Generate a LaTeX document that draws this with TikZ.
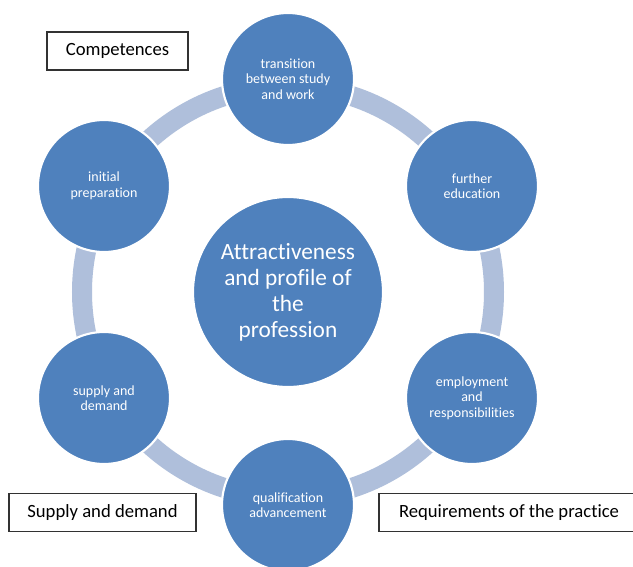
\documentclass[tikz,border=0pt]{standalone}
\usepackage{fontspec}
\setmainfont{Carlito}[Ligatures=NoCommon]

\definecolor{discblue}{RGB}{79,129,189}
\definecolor{ringblue}{RGB}{175,191,219}
\definecolor{boxline}{RGB}{50,50,50}

\begin{document}
\begin{tikzpicture}[
    x=0.75pt, y=-0.75pt,
    ring/.style={
        draw=ringblue,
        line width=15pt
    },
    core/.style={
        circle,
        fill=discblue,
        draw=white,
        line width=1.6pt,
        minimum size=142.5pt,
        align=center,
        text=white,
        inner sep=0pt,
        font=\fontsize{17.5}{19.5}\selectfont
    },
    phase/.style={
        circle,
        fill=discblue,
        draw=white,
        line width=1.6pt,
        minimum size=99pt,
        align=center,
        text=white,
        inner sep=0pt,
        font=\fontsize{10.5}{11.6}\selectfont
    },
    tag/.style={
        draw=boxline,
        fill=white,
        line width=0.8pt,
        align=center,
        minimum height=28.5pt,
        inner sep=0pt,
        font=\fontsize{14}{17}\selectfont
    }
]

% canvas
\useasboundingbox[fill=white] (0,0) rectangle (633,567);
\clip (0,0) rectangle (633,567);

% ---------------------------------------------------------------------------
% Centre
% ---------------------------------------------------------------------------
\coordinate (hub) at (288,292);

% ---------------------------------------------------------------------------
% Ring behind the phases
% ---------------------------------------------------------------------------
\draw[ring] (hub) circle (154.5pt);

\node[core] (profile) at (hub)
    {Attractiveness\\and profile of\\the\\profession};

% ---------------------------------------------------------------------------
% Phases around the ring
% ---------------------------------------------------------------------------
\node[phase] (transition) at (288,79)
    {transition\\between study\\and work};
\node[phase] (further) at (472,186)
    {further\\education};
\node[phase] (employment) at (472,398)
    {employment\\and\\responsibilities};
\node[phase] (qualification) at (288,505)
    {qualification\\advancement};
\node[phase] (supply) at (104,398)
    {supply and\\demand};
\node[phase] (initial) at (104,186)
    {initial\\preparation};

% ---------------------------------------------------------------------------
% Side labels
% ---------------------------------------------------------------------------
\node[tag, minimum width=105.75pt] (competences) at (117.5,51)
    {Competences};
\node[tag, minimum width=140.25pt] (market) at (102.5,512.5)
    {Supply and demand};
\node[tag, minimum width=195pt] (practice) at (509,512.5)
    {Requirements of the practice};

\end{tikzpicture}
\end{document}
